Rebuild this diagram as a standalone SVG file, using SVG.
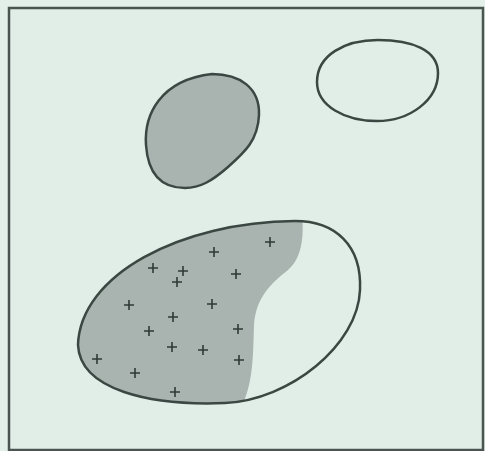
<svg xmlns="http://www.w3.org/2000/svg" xmlns:xlink="http://www.w3.org/1999/xlink" width="485" height="451" viewBox="0 0 485 451">
<style>
.outline{fill:none;stroke:#3b4742;stroke-width:2.5;stroke-linejoin:round}
.gray{fill:#a9b3b0}
.pl{stroke:#2f3b36;stroke-width:1.6;fill:none}
</style>
<defs>
<path id="bigOutline" d="M78,345 C80,275 180,222 295,221 C335,221 362,245 360,290 C358,345 290,400 225,403 C150,406 80,390 78,345 Z"/>
<clipPath id="bigClip"><use xlink:href="#bigOutline"/></clipPath>
<path id="plus" d="M-5,0 H5 M0,-5 V5"/>
<path id="smallShape" d="M212,74 C240,74 260,88 259,115 C258,140 245,152 228,167 C212,181 200,188 185,188 C162,188 148,175 146,145 C144,115 160,80 212,74 Z"/>
</defs>
<rect x="0" y="0" width="485" height="451" fill="#e3efe9"/>
<rect id="frame" x="9" y="8" width="474" height="442" fill="#e1eee7" stroke="#4a5551" stroke-width="2.5"/>
<g id="blob-small">
<use xlink:href="#smallShape" class="gray"/>
<use xlink:href="#smallShape" class="outline"/>
</g>
<g id="ellipse-open">
<path class="outline" d="M317,82 C317,55 345,40 378,40 C412,40 438,50 438,73 C438,100 410,121 377,121 C345,121 317,106 317,82 Z"/>
</g>
<g id="blob-large">
<path class="gray" clip-path="url(#bigClip)" d="M60,200 L300,200 C306,235 302,258 288,270 C270,284 256,298 254,325 C253,360 253,385 240,410 L60,420 Z"/>
<use xlink:href="#bigOutline" class="outline"/>
<g id="points">
<use xlink:href="#plus" class="pl" x="270" y="242"/>
<use xlink:href="#plus" class="pl" x="214" y="252"/>
<use xlink:href="#plus" class="pl" x="153" y="268"/>
<use xlink:href="#plus" class="pl" x="183" y="271"/>
<use xlink:href="#plus" class="pl" x="236" y="274"/>
<use xlink:href="#plus" class="pl" x="177" y="282"/>
<use xlink:href="#plus" class="pl" x="129" y="305"/>
<use xlink:href="#plus" class="pl" x="212" y="304"/>
<use xlink:href="#plus" class="pl" x="173" y="317"/>
<use xlink:href="#plus" class="pl" x="149" y="331"/>
<use xlink:href="#plus" class="pl" x="238" y="329"/>
<use xlink:href="#plus" class="pl" x="172" y="347"/>
<use xlink:href="#plus" class="pl" x="203" y="350"/>
<use xlink:href="#plus" class="pl" x="97" y="359"/>
<use xlink:href="#plus" class="pl" x="239" y="360"/>
<use xlink:href="#plus" class="pl" x="135" y="373"/>
<use xlink:href="#plus" class="pl" x="175" y="392"/>
</g>
</g>
</svg>
